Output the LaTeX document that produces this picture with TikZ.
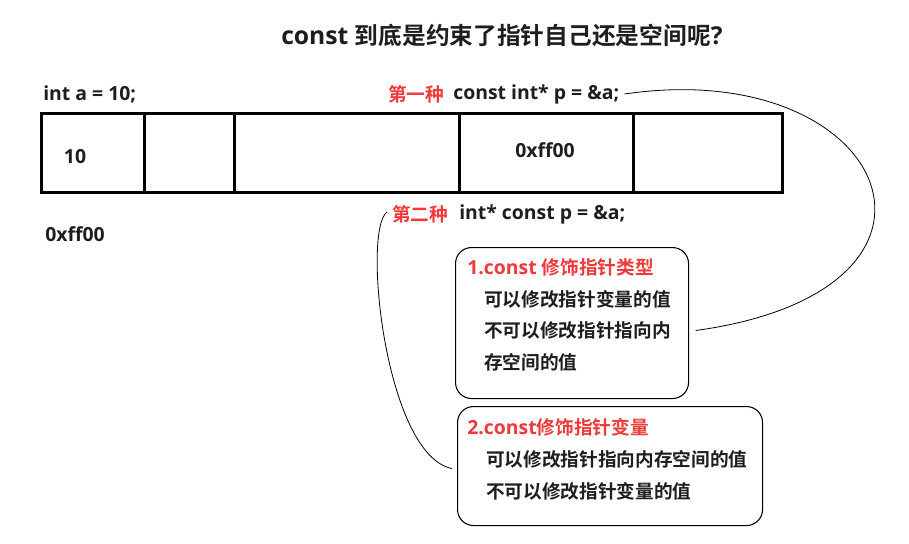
\documentclass[tikz,border=0pt]{standalone}
\usepackage{fontspec}
\setmainfont{Noto Sans CJK SC}[BoldFont={Noto Sans CJK SC Bold}]
\newfontfamily\lat{Open Sans}[Scale=1.04]
\definecolor{txt}{RGB}{30,30,30}
\definecolor{redt}{RGB}{238,58,58}
\newcommand{\la}[1]{{\lat\bfseries #1}}
\begin{document}
\begin{tikzpicture}[x=0.75pt,y=-0.75pt,
  lbl/.style={anchor=west,inner sep=0pt,font=\bfseries\fontsize{14}{16}\selectfont,text=txt},
  redl/.style={lbl,text=redt},
  cell/.style={draw=black,line width=2.4pt,anchor=north west,minimum height=79*0.75pt,inner sep=0pt},
  card/.style={draw=black,line width=0.8pt,rounded corners=12pt,anchor=north west,inner sep=0pt},
  link/.style={draw=black,line width=0.6pt}]
\useasboundingbox (0,0) rectangle (909,543);
\node[lbl,font=\bfseries\fontsize{17.8}{20}\selectfont] (title) at (281,35) {\la{const }到底是约束了指针自己还是空间呢\la{?}};
\node[lbl] (decl) at (43,94) {\la{int a = 10;}};
\node[redl] (k1) at (388,94) {第一种};
\node[lbl] (p1) at (453,94) {\la{const int* p = \&a;}};
% memory cells
\node[cell,minimum width=103*0.75pt] (c1) at (40,112) {};
\node[cell,minimum width=90*0.75pt] (c2) at (143,112) {};
\node[cell,minimum width=225*0.75pt] (c3) at (233,112) {};
\node[cell,minimum width=174*0.75pt] (c4) at (458,112) {};
\node[cell,minimum width=149*0.75pt] (c5) at (632,112) {};
\node[lbl,anchor=center] (v10) at (75,157) {\la{10}};
\node[lbl,anchor=center] (vp) at (545,150) {\la{0xff00}};
\node[lbl] (addr) at (45,234) {\la{0xff00}};
\node[redl] (k2) at (392,214) {第二种};
\node[lbl] (p2) at (459,214) {\la{int* const p = \&a;}};
% cards
\node[card,minimum width=233*0.75pt,minimum height=151*0.75pt] (b1) at (455,247) {};
\node[redl] (b1t) at (467,267) {\la{1.const }修饰指针类型};
\node[lbl] (b1a) at (484,299) {可以修改指针变量的值};
\node[lbl] (b1b) at (484,330) {不可以修改指针指向内};
\node[lbl] (b1c) at (484,362) {存空间的值};
\node[card,minimum width=305*0.75pt,minimum height=119*0.75pt] (b2) at (457,406) {};
\node[redl] (b2t) at (467,427) {\la{2.const}修饰指针变量};
\node[lbl] (b2a) at (486,459) {可以修改指针指向内存空间的值};
\node[lbl] (b2b) at (486,491) {不可以修改指针变量的值};
% connectors
\draw[link] ([xshift=3.75pt]p1.east) .. controls (890,55) and (990,290) .. ([xshift=5pt,yshift=-5.6pt]b1.east);
\draw[link] ([xshift=-3.75pt,yshift=1.5pt]k2.west) .. controls (362,230) and (385,455) .. ([xshift=-3.75pt,yshift=-1.9pt]b2.west);
\end{tikzpicture}
\end{document}
